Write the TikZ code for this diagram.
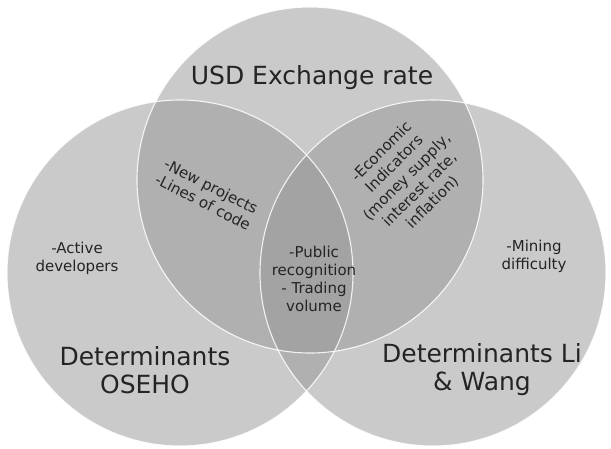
\documentclass[tikz,border=0pt]{standalone}
\usepackage{fontspec}
\setmainfont{DejaVu Sans}

\definecolor{setgray}{RGB}{150,150,150}
\definecolor{ink}{RGB}{36,36,36}

\begin{document}
\begin{tikzpicture}[x=1pt, y=-1pt, text=ink,
    set/.style={fill=setgray, fill opacity=0.5},
    rim/.style={draw=white, line width=1.1pt, draw opacity=0.85},
    big/.style={inner sep=0pt, align=center, font=\fontsize{25}{28}\selectfont},
    small/.style={inner sep=0pt, align=center, font=\fontsize{15}{18}\selectfont}]
    \useasboundingbox (0,0) rectangle (611,448);
    % the three sets
    \coordinate (usd) at (310,180);
    \coordinate (oseho) at (180,273);
    \coordinate (liwang) at (433,273);
    \foreach \c in {usd,oseho,liwang} \fill[set] (\c) circle[radius=173pt];
    \foreach \c in {usd,oseho,liwang} \draw[rim] (\c) circle[radius=173pt];
    % set names
    \node[big] (usdname) at (312,78) {USD Exchange rate};
    \node[big] (osehoname) at (145,370) {Determinants\\OSEHO};
    \node[big] (liwangname) at (482,370) {Determinants Li\\\& Wang};
    % members
    \node[small] (active) at (77,258) {-Active\\developers};
    \node[small] (mining) at (534,256) {-Mining\\difficulty};
    \node[small, rotate=-27] (code) at (207,194) {-New projects\\-Lines of code};
    \node[small, rotate=45] (econ) at (407,177)
        {-Economic\\Indicators\\(money supply,\\interest rate,\\inflation)};
    \node[small] (common) at (314,279) {-Public\\recognition\\- Trading\\volume};
\end{tikzpicture}
\end{document}
